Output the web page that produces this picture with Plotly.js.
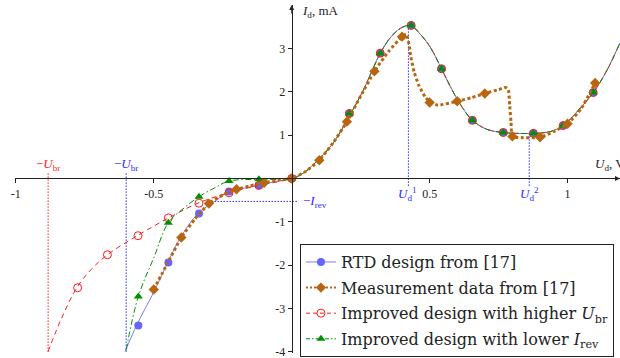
<!DOCTYPE html>
<html>
<head>
<meta charset="utf-8">
<script src="https://cdn.plot.ly/plotly-3.0.1.min.js"></script>
<style>html,body{margin:0;padding:0;background:#fff;}#chart{width:620px;height:358px;}</style>
</head>
<body>
<div id="chart"></div>
<script>
// ---- data ----
// RTD design from [17] (negative branch)
const rtdNegU = [-0.604, -0.561, -0.5, -0.449, -0.4, -0.34, -0.28, -0.227, -0.17, -0.119, -0.06, 0];
const rtdNegI = [-3.99, -3.37, -2.62, -1.93, -1.33, -0.81, -0.53, -0.30, -0.22, -0.16, -0.07, 0];
const rtdMarkNegU = [-0.556, -0.447, -0.336, -0.227, -0.119];
const rtdMarkNegI = [-3.39, -1.94, -0.81, -0.30, -0.16];
// positive branch shared by all three designs
const posU = [0, 0.05, 0.1, 0.152, 0.214, 0.257, 0.293, 0.322, 0.358, 0.394, 0.43, 0.467, 0.503, 0.543, 0.575, 0.611, 0.655, 0.709, 0.767, 0.818, 0.876, 0.937, 0.984, 1.04, 1.093, 1.144, 1.19];
const posI = [0, 0.16, 0.46, 0.83, 1.50, 2.0, 2.51, 2.90, 3.25, 3.46, 3.53, 3.32, 3.02, 2.53, 2.12, 1.71, 1.34, 1.13, 1.06, 1.04, 1.04, 1.08, 1.22, 1.58, 1.98, 2.51, 3.13];
const posMarkU = [0, 0.209, 0.321, 0.433, 0.543, 0.655, 0.767, 0.876, 0.984, 1.093];
const posMarkI = [0, 1.50, 2.89, 3.53, 2.53, 1.34, 1.06, 1.04, 1.22, 1.98];
// Measurement data from [17]
const measU = [-0.5, -0.45, -0.4, -0.35, -0.3, -0.25, -0.2, -0.15, -0.1, -0.05, 0, 0.05, 0.1, 0.15, 0.2, 0.25, 0.3, 0.35, 0.4, 0.415, 0.425, 0.432, 0.444, 0.462, 0.486, 0.505, 0.53, 0.6, 0.65, 0.7, 0.75, 0.775, 0.785, 0.79, 0.795, 0.8, 0.84, 0.9, 0.95, 1.0, 1.05, 1.1];
const measI = [-2.56, -1.95, -1.36, -0.93, -0.58, -0.38, -0.25, -0.17, -0.10, -0.04, 0, 0.16, 0.42, 0.82, 1.31, 1.90, 2.47, 2.92, 3.27, 3.33, 3.10, 2.80, 2.45, 2.13, 1.86, 1.75, 1.69, 1.78, 1.86, 1.96, 2.05, 2.10, 2.05, 1.70, 1.30, 0.97, 0.94, 0.95, 1.08, 1.26, 1.62, 2.20];
const measMarkU = [-0.5, -0.4, -0.3, -0.2, -0.1, 0, 0.1, 0.2, 0.3, 0.4, 0.5, 0.6, 0.7, 0.8, 0.9, 1.0, 1.1];
const measMarkI = [-2.56, -1.36, -0.58, -0.25, -0.10, 0, 0.42, 1.31, 2.47, 3.27, 1.75, 1.78, 1.96, 0.97, 0.95, 1.26, 2.20];
// Improved design with higher U_br
const hiNegU = [-0.883, -0.836, -0.778, -0.727, -0.668, -0.557, -0.449, -0.34, -0.227, -0.119];
const hiNegI = [-3.99, -3.25, -2.51, -2.10, -1.76, -1.31, -0.92, -0.57, -0.33, -0.16];
const hiMarkNegU = [-0.776, -0.668, -0.557, -0.447, -0.336, -0.227, -0.119];
const hiMarkNegI = [-2.52, -1.76, -1.32, -0.91, -0.57, -0.33, -0.16];
// Improved design with lower I_rev
const loNegU = [-0.60, -0.556, -0.5, -0.447, -0.39, -0.336, -0.28, -0.227, -0.119];
const loNegI = [-3.95, -2.72, -1.83, -1.02, -0.68, -0.42, -0.22, -0.06, -0.02];
const loMarkNegU = [-0.556, -0.447, -0.336, -0.227, -0.119];
const loMarkNegI = [-2.72, -1.02, -0.42, -0.06, -0.02];
// characteristic values
const uBrRTD = -0.6, uBrHigh = -0.883, iRev = 0.53;
const ud1 = 0.423, ud1I = 3.53, ud2 = 0.861, ud2I = 1.04;
// axes / ticks
const xRange = [-1.003, 1.19], yRange = [-4.025, 4.0];
const xTicks = [-1, -0.5, 0.5, 1], xTickText = ['-1', '-0.5', '0.5', '1'];
const yTicks = [-4, -3, -2, -1, 1, 2, 3], yTickText = ['-4', '-3', '-2', '-1', '1', '2', '3'];
const seriesNames = ['RTD design from [17]', 'Measurement data from [17]',
  'Improved design with higher <i>U</i><sub>br</sub>', 'Improved design with lower <i>I</i><sub>rev</sub>'];

// ---- styles ----
const FONT = 'Liberation Serif, Times New Roman, serif';
const LFONT = 'DejaVu Serif, serif';
const cBlue = '#7a7aff', cBlueM = '#6464ff', cBrown = '#b8650f', cRed = '#ff1a1a', cGreen = '#009000', cGuide = '#2b2bff';
const dashRed = '5px,4px', dashGreen = '6px,2.5px,1.5px,2.5px';

const traces = [];
function line(x, y, color, width, dash, smooth) {
  traces.push({x, y, type: 'scatter', mode: 'lines', showlegend: false, hoverinfo: 'skip',
    line: {color, width, dash, shape: smooth ? 'spline' : 'linear', smoothing: smooth || 0}, cliponaxis: true});
}
function marks(x, y, marker) {
  traces.push({x, y, type: 'scatter', mode: 'markers', showlegend: false, hoverinfo: 'skip', marker, cliponaxis: false});
}
// guides
line([uBrRTD, uBrRTD], [-4, 0.15], cGuide, 1, '1.5px,1.5px');
line([uBrHigh, uBrHigh], [-4, 0.15], cRed, 1, '1.5px,1.5px');
line([-0.28, 0.02], [-iRev, -iRev], cGuide, 1, '1.5px,1.5px');
line([ud1, ud1], [ud1I, -0.2], cGuide, 1, '1.5px,1.5px');
line([ud2, ud2], [ud2I, -0.2], cGuide, 1, '1.5px,1.5px');

const mBlue = {symbol: 'circle', size: 8, color: cBlueM, line: {width: 0}};
const mRed = {symbol: 'circle-open', size: 8, color: cRed, line: {width: 1, color: cRed}};
const mGreen = {symbol: 'triangle-up', size: 8, color: cGreen, line: {width: 0}};
const mBrown = {symbol: 'diamond', size: 8, color: cBrown, line: {width: 0}};

// RTD design
line(rtdNegU.concat(posU.slice(1)), rtdNegI.concat(posI.slice(1)), cBlue, 1, 'solid', 1);
marks(rtdMarkNegU.concat(posMarkU), rtdMarkNegI.concat(posMarkI), mBlue);
// improved, higher U_br
line(hiNegU.concat(posU), hiNegI.concat(posI), cRed, 1, dashRed, 1);
marks(hiMarkNegU.concat(posMarkU), hiMarkNegI.concat(posMarkI), mRed);
// improved, lower I_rev
line(loNegU.concat(posU), loNegI.concat(posI), cGreen, 1, dashGreen, 1);
marks(loMarkNegU.concat(posMarkU), loMarkNegI.concat(posMarkI), mGreen);
// measurement
line(measU, measI, cBrown, 3, '3px,2.5px', 0.5);
marks(measMarkU, measMarkI, mBrown);

// legend entries
const legendStyles = [
  {line: {color: cBlue, width: 1}, marker: mBlue},
  {line: {color: cBrown, width: 2, dash: '2px,2px'}, marker: mBrown},
  {line: {color: cRed, width: 1, dash: '4px,3px'}, marker: mRed},
  {line: {color: cGreen, width: 1, dash: '4px,2px,1.5px,2px'}, marker: mGreen}
];
seriesNames.forEach((n, i) => traces.push(Object.assign({x: [null], y: [null], type: 'scatter', mode: 'lines+markers',
  name: n, legendgroup: 'g' + i, showlegend: true}, legendStyles[i])));

const xPos = (0 - yRange[0]) / (yRange[1] - yRange[0]);
const yPos = (0 - xRange[0]) / (xRange[1] - xRange[0]);
const tickFont = {family: FONT, size: 12, color: '#222'};

const layout = {
  width: 620, height: 358,
  margin: {l: 15, r: 0, t: 5, b: 5},
  paper_bgcolor: '#fff', plot_bgcolor: '#fff',
  font: {family: FONT, color: '#222'},
  showlegend: true,
  legend: {x: 0.471, y: 0.313, xanchor: 'left', yanchor: 'top', bgcolor: '#fff', bordercolor: '#222', borderwidth: 1,
    font: {family: LFONT, size: 16, color: '#222'}, tracegroupgap: 1.8},
  xaxis: {range: xRange, anchor: 'free', position: xPos, showgrid: false, zeroline: false, showline: true,
    linecolor: '#222', linewidth: 1, ticks: 'outside', ticklen: 4, tickcolor: '#222', ticklabeloverflow: 'allow',
    tickvals: xTicks, ticktext: xTickText, tickfont: tickFont, fixedrange: true},
  yaxis: {range: yRange, anchor: 'free', position: yPos, showgrid: false, zeroline: false, showline: true,
    linecolor: '#222', linewidth: 1, ticks: 'outside', ticklen: 4, tickcolor: '#222', ticklabeloverflow: 'allow',
    tickvals: yTicks, ticktext: yTickText, tickfont: tickFont, fixedrange: true},
  annotations: [
    {x: 0, y: yRange[1], ax: 0, ay: 10, showarrow: true, arrowhead: 2, arrowsize: 1, arrowwidth: 1, arrowcolor: '#222', text: ''},
    {x: xRange[1], y: 0, ax: -10, ay: 0, showarrow: true, arrowhead: 2, arrowsize: 1, arrowwidth: 1, arrowcolor: '#222', text: ''},
    {x: 0.03, y: 3.85, xanchor: 'left', yanchor: 'middle', showarrow: false, text: '<i>I</i><sub>d</sub>, mA', font: {family: FONT, size: 13, color: '#222'}},
    {x: 1.093, y: 0.32, xanchor: 'left', yanchor: 'middle', showarrow: false, text: '<i>U</i><sub>d</sub>, V', font: {family: FONT, size: 13, color: '#222'}},
    {x: uBrHigh, y: 0.33, xanchor: 'center', yanchor: 'middle', showarrow: false, text: '−<i>U</i><sub>br</sub>', font: {family: FONT, size: 13, color: cRed}},
    {x: uBrRTD, y: 0.33, xanchor: 'center', yanchor: 'middle', showarrow: false, text: '−<i>U</i><sub>br</sub>', font: {family: FONT, size: 13, color: cGuide}},
    {x: 0.033, y: -iRev, xanchor: 'left', yanchor: 'middle', showarrow: false, text: '−<i>I</i><sub>rev</sub>', font: {family: FONT, size: 13, color: cGuide}},
    {x: ud1 - 0.005, y: -0.1, xanchor: 'center', yanchor: 'top', showarrow: false, text: '<i>U</i><sub>d</sub><sup>1</sup>', font: {family: FONT, size: 13, color: cGuide}},
    {x: ud2, y: -0.1, xanchor: 'center', yanchor: 'top', showarrow: false, text: '<i>U</i><sub>d</sub><sup>2</sup>', font: {family: FONT, size: 13, color: cGuide}}
  ]
};
Plotly.newPlot('chart', traces, layout, {staticPlot: true, displayModeBar: false});
</script>
</body>
</html>
